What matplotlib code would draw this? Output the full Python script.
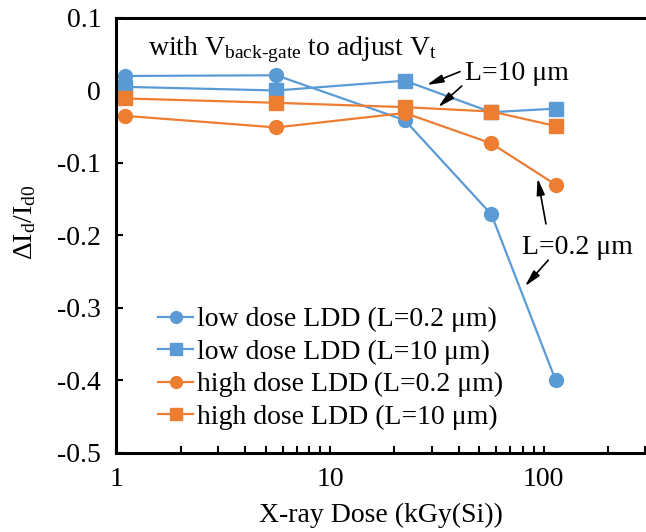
import matplotlib
matplotlib.use("Agg")
import matplotlib.pyplot as plt

plt.rcParams["font.family"] = ["Liberation Serif", "DejaVu Serif"]
plt.rcParams["mathtext.fontset"] = "custom"
plt.rcParams["mathtext.rm"] = "Liberation Serif"
plt.rcParams["mathtext.it"] = "Liberation Serif:italic"
plt.rcParams["font.size"] = 20

BLUE = "#5B9BD5"
ORANGE = "#ED7D31"

dose = [1.1, 5.6, 22.4, 57, 114]
low_02 = [0.020, 0.021, -0.041, -0.171, -0.400]
low_10 = [0.005, 0.000, 0.0135, -0.030, -0.025]
high_02 = [-0.035, -0.051, -0.031, -0.073, -0.130]
high_10 = [-0.011, -0.017, -0.023, -0.029, -0.049]

series = [
    (low_02, BLUE, "o", u"low dose LDD (L=0.2 \u03bcm)"),
    (low_10, BLUE, "s", u"low dose LDD (L=10 \u03bcm)"),
    (high_02, ORANGE, "o", u"high dose LDD\u2009(L=0.2 \u03bcm)"),
    (high_10, ORANGE, "s", u"high dose LDD (L=10 \u03bcm)"),
]

fig = plt.figure(figsize=(6.46, 5.32), dpi=100)
ax = fig.add_axes([0.1802, 0.1485, 0.819, 0.8177])

for vals, col, mk, lab in series:
    ax.plot(dose, vals, color=col, marker=mk, markersize=10, lw=1.6,
            label=lab, clip_on=False)

ax.set_xscale("log")
ax.set_xlim(1, 300)
ax.set_ylim(-0.5, 0.1)
ax.set_yticks([-0.5, -0.4, -0.3, -0.2, -0.1, 0, 0.1])
ax.set_yticklabels(["-0.5", "-0.4", "-0.3", "-0.2", "-0.1", "0", "0.1"])
ax.set_xticks([1, 10, 100])
ax.set_xticklabels(["1", "10", "100"])

for s in ["left", "bottom", "top"]:
    ax.spines[s].set_linewidth(2.2)
ax.spines["right"].set_visible(False)
ax.tick_params(which="both", direction="in", width=1.5, top=False, right=False)
ax.tick_params(which="major", length=5)
ax.tick_params(which="minor", length=5)
ax.tick_params(axis="y", pad=11)
ax.tick_params(axis="x", which="both", pad=10)

ax.set_xlabel("X-ray Dose (kGy(Si))")
ax.set_ylabel(r"$\Delta$I$_{\rm d}$/I$_{\rm d0}$")
ax.xaxis.set_label_coords(0.5, -0.115)
ax.yaxis.set_label_coords(-0.148, 0.531)

ax.text(1.406, 0.049, r"with V$_{\text{back-gate}}$ to adjust V$_{\rm t}$",
        va="baseline", ha="left")

arrow = dict(arrowstyle="-|>,head_length=0.9,head_width=0.22", color="black", lw=1.2,
             shrinkA=0, shrinkB=0, mutation_scale=11)
ax.text(42.9, 0.024, u"L=10 \u03bcm", va="center", ha="left")
ax.annotate("", xy=(28.4, 0.0076), xytext=(40.6, 0.026), arrowprops=arrow)
ax.annotate("", xy=(32.1, -0.023), xytext=(41.4, 0.0062), arrowprops=arrow)

ax.text(78.9, -0.216, u"L=0.2 \u03bcm", va="center", ha="left")
ax.annotate("", xy=(93.8, -0.121), xytext=(102.6, -0.184), arrowprops=arrow)
ax.annotate("", xy=(81.8, -0.270), xytext=(105.2, -0.234), arrowprops=arrow)

ax.legend(loc="upper left", bbox_to_anchor=(0.079, 0.336), frameon=False,
          borderpad=0, borderaxespad=0, handlelength=1.26, handletextpad=0.13,
          labelspacing=0.255, markerscale=0.85)

fig.savefig("out.png", dpi=100)
